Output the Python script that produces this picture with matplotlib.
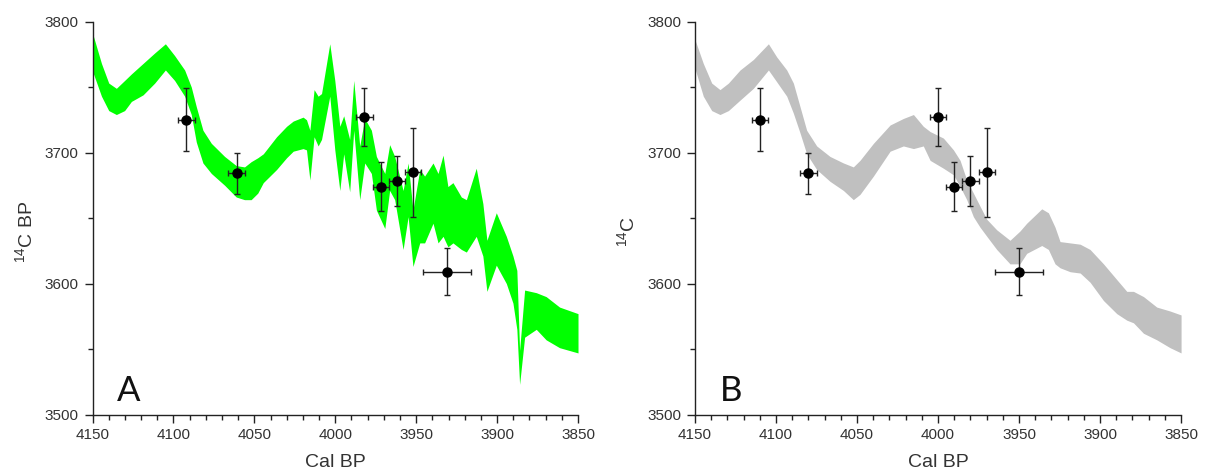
import matplotlib
matplotlib.use("Agg")
import matplotlib.pyplot as plt
import numpy as np

plt.rcParams['font.family'] = ['Liberation Sans', 'DejaVu Sans']
plt.rcParams['mathtext.default'] = 'regular'

# measured dates (panel A and panel B share the 14C values)
cal_a = [4092, 4061, 3982, 3972, 3962, 3952, 3931]
cal_b = [4110, 4080, 4000, 3990, 3980, 3970, 3950]
cal_err = [5, 5, 5, 5, 5, 5, 15]
c14 = [3725, 3684, 3727, 3674, 3678, 3685, 3609]
c14_err = [24, 16, 22, 19, 19, 34, 18]

# panel A calibration band (green)
band_a_x = [4150, 4144.5, 4140, 4135.3, 4130.2, 4126, 4118.8, 4111.6, 4105, 4099.3,
            4093.1, 4089, 4085.9, 4081.8, 4076.6, 4068.4, 4061.2, 4056.1, 4052, 4047.9,
            4044.5, 4036.3, 4030.1, 4026, 4019.9, 4017.8, 4015.7, 4013.1, 4010.6, 4008.5,
            4003.4, 4000.3, 3997.2, 3994.8, 3991.1, 3988.6, 3984.9, 3981.8, 3977.7, 3974.6,
            3969.4, 3966.4, 3963.3, 3958.1, 3955, 3952, 3947.8, 3944.8, 3939.6, 3936.5,
            3933.4, 3930.4, 3927.3, 3922.1, 3919, 3912.9, 3908.8, 3906.3, 3900.5, 3894.3,
            3890.2, 3887.8, 3886.1, 3883, 3875.8, 3869.7, 3861.4, 3850]
band_a_hi = [3791, 3768, 3753, 3749, 3755, 3760, 3768, 3776, 3783, 3774,
             3763, 3750, 3735, 3717, 3707, 3697, 3690, 3689, 3693, 3696,
             3699, 3712, 3720, 3724, 3727, 3725, 3717, 3748, 3743, 3745,
             3783, 3755, 3720, 3728, 3710, 3755, 3705, 3726, 3717, 3697,
             3684, 3706, 3697, 3671, 3692, 3656, 3687, 3682, 3692, 3684,
             3698, 3674, 3677, 3666, 3664, 3688, 3661, 3633, 3654, 3636,
             3621, 3610, 3549, 3595, 3593, 3590, 3582, 3577]
band_a_lo = [3762, 3743, 3732, 3729, 3732, 3739, 3744, 3753, 3763, 3755,
             3743, 3729, 3708, 3692, 3684, 3675, 3666, 3664, 3664, 3669,
             3677, 3687, 3696, 3701, 3703, 3702, 3679, 3712, 3705, 3710,
             3743, 3702, 3671, 3699, 3670, 3717, 3664, 3692, 3684, 3656,
             3642, 3671, 3664, 3626, 3651, 3613, 3631, 3631, 3646, 3631,
             3636, 3628, 3631, 3626, 3624, 3636, 3621, 3594, 3614, 3600,
             3585, 3565, 3523, 3559, 3565, 3557, 3551, 3547]

# panel B calibration band (grey)
band_b_x = [4150, 4144.9, 4139.7, 4134.6, 4129.4, 4122.2, 4114, 4104.7, 4099.6, 4093.4,
            4089.3, 4085.2, 4081.1, 4074.9, 4066.7, 4058.4, 4052.3, 4048.2, 4039.9, 4029.6,
            4021.4, 4015.2, 4009.1, 4004.9, 3996.7, 3990.5, 3986.4, 3982.3, 3978.2, 3974.1,
            3969.9, 3963.8, 3955.6, 3949.5, 3945.3, 3936, 3931.9, 3927.8, 3924.7, 3918.5,
            3912.3, 3906.2, 3897.9, 3889.7, 3883.5, 3879.4, 3873.2, 3865, 3856.8, 3850]
band_b_hi = [3786, 3768, 3753, 3748, 3753, 3763, 3771, 3783, 3773, 3763,
             3753, 3735, 3717, 3705, 3697, 3692, 3689, 3694, 3707, 3721,
             3726, 3729, 3720, 3716, 3711, 3702, 3694, 3679, 3669, 3659,
             3649, 3641, 3633, 3640, 3646, 3657, 3654, 3643, 3632, 3631,
             3630, 3626, 3615, 3603, 3594, 3594, 3590, 3582, 3579, 3576]
band_b_lo = [3764, 3743, 3732, 3729, 3732, 3740, 3749, 3763, 3754, 3743,
             3730, 3715, 3699, 3687, 3678, 3671, 3664, 3668, 3682, 3701,
             3705, 3703, 3705, 3694, 3688, 3683, 3674, 3664, 3651, 3643,
             3636, 3626, 3615, 3615, 3623, 3629, 3626, 3615, 3612, 3609,
             3608, 3601, 3587, 3577, 3572, 3570, 3562, 3557, 3551, 3547]

txt = '#333333'

fig = plt.figure(figsize=(12.1, 4.76), dpi=100)
ax_a = fig.add_axes([0.0765, 0.1292, 0.4012, 0.8256])
ax_b = fig.add_axes([0.5744, 0.1292, 0.4017, 0.8256])


def style(ax, ylabel, letter):
    ax.set_xlim(4150, 3850)
    ax.set_ylim(3500, 3800)
    ax.set_xticks(np.arange(4150, 3849, -50))
    ax.set_xticks(np.arange(4150, 3849, -10), minor=True)
    ax.set_yticks(np.arange(3500, 3801, 100))
    ax.set_yticks(np.arange(3500, 3801, 50), minor=True)
    for s in ['top', 'right']:
        ax.spines[s].set_visible(False)
    for s in ['left', 'bottom']:
        ax.spines[s].set_color('#222222')
        ax.spines[s].set_linewidth(1.0)
    ax.tick_params(which='major', length=6, width=1, color='#222222',
                   labelsize=11, labelcolor=txt, pad=4)
    ax.tick_params(which='minor', length=3.5, width=1, color='#222222')
    ax.set_xlabel('Cal BP', fontsize=14, color=txt, labelpad=8)
    ax.set_ylabel(ylabel, fontsize=14, color=txt, labelpad=8)
    ax.yaxis.set_label_coords(-0.117, 0.465)
    ax.text(4128, 3518, letter, fontsize=25, family=['Lato', 'DejaVu Sans'],
            ha='center', va='center', color='#111111')


ax_a.fill_between(band_a_x, band_a_lo, band_a_hi, color='#00ff00', lw=0)
ax_a.errorbar(cal_a, c14, xerr=cal_err, yerr=c14_err, fmt='o', color='black',
              ms=6.5, ecolor='#222222', elinewidth=1.0, capsize=2.2, capthick=1.0)
style(ax_a, '$^{14}$C BP', 'A')

ax_b.fill_between(band_b_x, band_b_lo, band_b_hi, color='#c0c0c0', lw=0)
ax_b.errorbar(cal_b, c14, xerr=cal_err, yerr=c14_err, fmt='o', color='black',
              ms=6.5, ecolor='#222222', elinewidth=1.0, capsize=2.2, capthick=1.0)
style(ax_b, '$^{14}$C', 'B')

fig.savefig('out.png', dpi=100)
